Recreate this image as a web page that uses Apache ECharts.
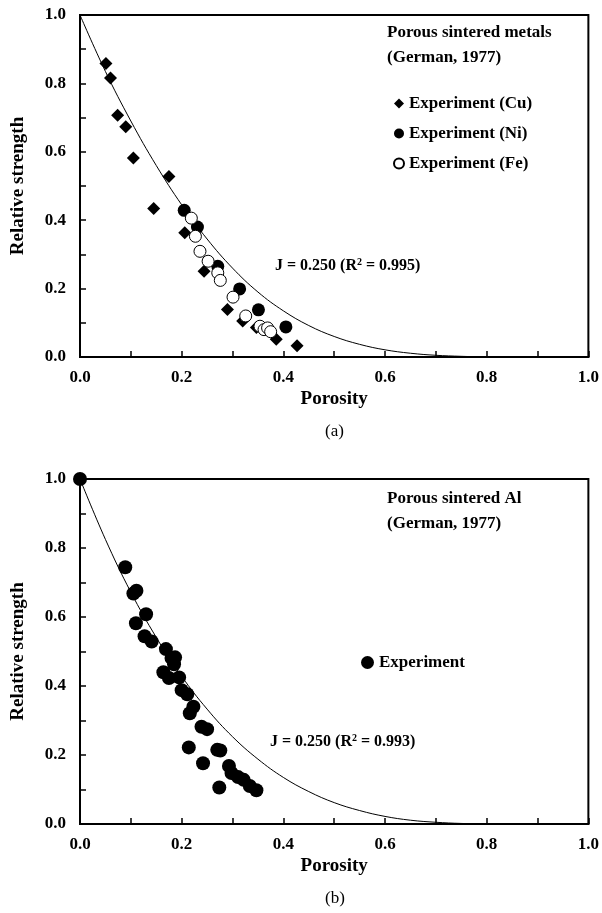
<!DOCTYPE html>
<html><head><meta charset="utf-8">
<script src="https://cdn.jsdelivr.net/npm/echarts@6/dist/echarts.min.js"></script>
<style>html,body{margin:0;padding:0;background:#fff}#c{width:602px;height:913px}</style>
</head><body><div id="c"></div>
<script>
// ---------- data ----------
const xTickLabels = ['0.0','0.2','0.4','0.6','0.8','1.0'];
const yTickLabels = ['0.0','0.2','0.4','0.6','0.8','1.0'];

// panel (a): porous sintered metals
const cuA = [[0.051,0.858],[0.060,0.816],[0.074,0.707],[0.090,0.673],[0.105,0.582],[0.175,0.528],[0.145,0.434],[0.206,0.363],[0.244,0.251],[0.290,0.139],[0.320,0.105],[0.347,0.086],[0.386,0.052],[0.427,0.033]];
const niA = [[0.205,0.429],[0.231,0.380],[0.271,0.265],[0.314,0.199],[0.351,0.138],[0.405,0.088]];
const feA = [[0.219,0.406],[0.227,0.353],[0.236,0.309],[0.252,0.280],[0.271,0.246],[0.276,0.224],[0.301,0.175],[0.326,0.120],[0.354,0.090],[0.362,0.080],[0.369,0.085],[0.375,0.074]];
const fitA = [[0,1.0],[0.05,0.835],[0.10,0.69],[0.15,0.56],[0.20,0.445],[0.25,0.345],[0.30,0.26],[0.35,0.19],[0.40,0.135],[0.45,0.092],[0.50,0.06],[0.55,0.037],[0.60,0.021],[0.65,0.011],[0.70,0.005],[0.75,0.002],[0.80,0.0]];

// panel (b): porous sintered Al
const alB = [[0,1.0],[0.089,0.744],[0.105,0.668],[0.111,0.676],[0.130,0.608],[0.110,0.582],[0.127,0.544],[0.141,0.529],[0.169,0.507],[0.180,0.481],[0.187,0.483],[0.185,0.463],[0.164,0.440],[0.175,0.423],[0.195,0.425],[0.200,0.388],[0.211,0.376],[0.223,0.340],[0.216,0.321],[0.239,0.282],[0.250,0.275],[0.214,0.222],[0.270,0.215],[0.276,0.213],[0.242,0.176],[0.293,0.168],[0.298,0.148],[0.311,0.136],[0.322,0.128],[0.334,0.110],[0.347,0.098],[0.274,0.106]];
const fitB = [[0,1.0],[0.05,0.825],[0.10,0.672],[0.15,0.541],[0.20,0.428],[0.25,0.333],[0.30,0.253],[0.35,0.188],[0.40,0.135],[0.45,0.094],[0.50,0.062],[0.55,0.039],[0.60,0.022],[0.65,0.011],[0.70,0.005],[0.75,0.0016],[0.80,0.0003],[0.87,0.0]];

// ---------- chart ----------
const FONT = '"Liberation Serif", "Times New Roman", serif';
const bold = (size) => ({color:'#000', fontFamily:FONT, fontWeight:'bold', fontSize:size});

function xAxis(gi){
  return {type:'value', gridIndex:gi, min:0, max:1, interval:0.1,
    axisLine:{show:true, onZero:false, lineStyle:{color:'#000', width:2}},
    axisTick:{show:true, inside:true, length:6, lineStyle:{color:'#000', width:1.5}},
    axisLabel:Object.assign({margin:12, formatter:v => { const s=v.toFixed(1); return xTickLabels.includes(s)?s:''; }}, bold(17)),
    splitLine:{show:false},
    name:'Porosity', nameLocation:'middle', nameGap:33, nameTextStyle:bold(19)};
}
function yAxis(gi){
  return {type:'value', gridIndex:gi, min:0, max:1, interval:0.1,
    axisLine:{show:true, onZero:false, lineStyle:{color:'#000', width:2}},
    axisTick:{show:true, inside:true, length:6, lineStyle:{color:'#000', width:1.5}},
    axisLabel:Object.assign({margin:14, formatter:v => { const s=v.toFixed(1); return yTickLabels.includes(s)?s:''; }}, bold(17)),
    splitLine:{show:false},
    name:'Relative strength', nameLocation:'middle', nameGap:52, nameRotate:90, nameTextStyle:bold(19)};
}

const solid = {color:'#000', opacity:1};
const hollow = {color:'#fff', borderColor:'#000', borderWidth:1, opacity:1};

const chart = echarts.init(document.getElementById('c'), null, {renderer:'canvas'});
chart.setOption({
  animation:false,
  backgroundColor:'#fff',
  grid:[
    {left:80, top:15, width:509, height:342, show:true, borderColor:'#000', borderWidth:2},
    {left:80, top:479, width:509, height:345, show:true, borderColor:'#000', borderWidth:2}
  ],
  xAxis:[xAxis(0), xAxis(1)],
  yAxis:[yAxis(0), yAxis(1)],
  legend:[
    {data:[{name:'Experiment (Cu)', icon:'diamond'},{name:'Experiment (Ni)', icon:'circle'},{name:'Experiment (Fe)', icon:'circle'}],
     orient:'vertical', left:388, top:90, itemGap:13, itemWidth:10, itemHeight:10,
     textStyle:bold(17), selectedMode:false},
    {data:[{name:'Experiment', icon:'circle'}], orient:'vertical', left:356, top:649,
     itemWidth:13, itemHeight:13, textStyle:bold(17), selectedMode:false}
  ],
  graphic:[
    {type:'text', left:387, top:20, style:{text:'Porous sintered metals\n(German, 1977)', font:'bold 17px '+FONT, fill:'#000', lineHeight:25}},
    {type:'text', left:275, top:257, style:{text:'J = 0.250 (R{s|2} = 0.995)', font:'bold 16px '+FONT, fill:'#000', rich:{s:{fontSize:10, fontWeight:'bold', fontFamily:FONT, verticalAlign:'top', padding:[0,0,8,0]}}}},
    {type:'text', left:325, top:423, style:{text:'(a)', font:'17px '+FONT, fill:'#000'}},
    {type:'text', left:387, top:486, style:{text:'Porous sintered Al\n(German, 1977)', font:'bold 17px '+FONT, fill:'#000', lineHeight:25}},
    {type:'text', left:270, top:733, style:{text:'J = 0.250 (R{s|2} = 0.993)', font:'bold 16px '+FONT, fill:'#000', rich:{s:{fontSize:10, fontWeight:'bold', fontFamily:FONT, verticalAlign:'top', padding:[0,0,8,0]}}}},
    {type:'text', left:325, top:890, style:{text:'(b)', font:'17px '+FONT, fill:'#000'}}
  ],
  series:[
    {name:'fitA', type:'line', xAxisIndex:0, yAxisIndex:0, data:fitA, smooth:0.4, showSymbol:false, symbol:'none', lineStyle:{color:'#000', width:1}, z:1},
    {name:'Experiment (Cu)', type:'scatter', xAxisIndex:0, yAxisIndex:0, data:cuA, symbol:'diamond', symbolSize:13, itemStyle:solid, z:3},
    {name:'Experiment (Ni)', type:'scatter', xAxisIndex:0, yAxisIndex:0, data:niA, symbol:'circle', symbolSize:13, itemStyle:solid, z:3},
    {name:'Experiment (Fe)', type:'scatter', xAxisIndex:0, yAxisIndex:0, data:feA, symbol:'circle', symbolSize:12, itemStyle:hollow, z:4},
    {name:'fitB', type:'line', xAxisIndex:1, yAxisIndex:1, data:fitB, smooth:0.4, showSymbol:false, symbol:'none', lineStyle:{color:'#000', width:1}, z:1},
    {name:'Experiment', type:'scatter', xAxisIndex:1, yAxisIndex:1, data:alB, symbol:'circle', symbolSize:14, clip:false, itemStyle:solid, z:3}
  ]
});
</script>
</body></html>
